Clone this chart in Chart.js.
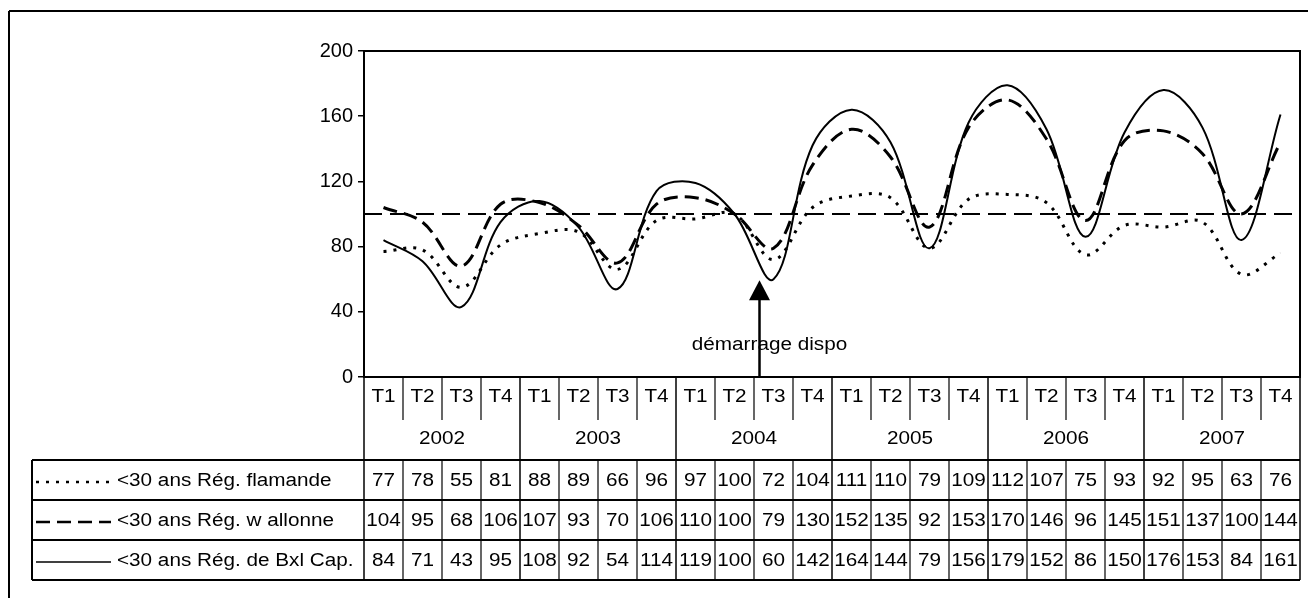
<!DOCTYPE html>
<html>
<head>
<meta charset="utf-8">
<script src="https://cdn.jsdelivr.net/npm/chart.js@4/dist/chart.umd.min.js"></script>
<style>
  html, body { margin: 0; padding: 0; background: #fff; }
  #wrap { width: 1308px; height: 598px; position: relative; }
</style>
</head>
<body>
<div id="wrap"><canvas id="c" width="1308" height="598"></canvas></div>
<script>
// Quarterly index values, 2002-2007
const quarterLabels = ['T1','T2','T3','T4','T1','T2','T3','T4','T1','T2','T3','T4',
                       'T1','T2','T3','T4','T1','T2','T3','T4','T1','T2','T3','T4'];
const yearLabels = ['2002','2003','2004','2005','2006','2007'];
const seriesNames = ['<30 ans Rég. flamande', '<30 ans Rég. w allonne', '<30 ans Rég. de Bxl Cap.'];
const flamande  = [77, 78, 55, 81, 88, 89, 66, 96, 97, 100, 72, 104, 111, 110, 79, 109, 112, 107, 75, 93, 92, 95, 63, 76];
const wallonne  = [104, 95, 68, 106, 107, 93, 70, 106, 110, 100, 79, 130, 152, 135, 92, 153, 170, 146, 96, 145, 151, 137, 100, 144];
const bruxelles = [84, 71, 43, 95, 108, 92, 54, 114, 119, 100, 60, 142, 164, 144, 79, 156, 179, 152, 86, 150, 176, 153, 84, 161];
const referenceLevel = 100;
const startIndex = 10;              // T3 2004
const startLabel = 'démarrage dispo';

const FONT = '18px "Liberation Sans", Arial, sans-serif';
const STRETCH = 1.15;
const dashes = [[3, 7], [14, 7], []];
const widths = [3, 3, 2];

function stretchText(ctx, text, x, y, align) {
  ctx.save();
  ctx.font = FONT;
  ctx.fillStyle = '#000';
  ctx.textBaseline = 'middle';
  ctx.textAlign = align;
  ctx.translate(x, y);
  ctx.scale(STRETCH, 1);
  ctx.fillText(text, 0, 0);
  ctx.restore();
}

function line(ctx, x1, y1, x2, y2, w) {
  ctx.beginPath();
  ctx.lineWidth = w;
  ctx.moveTo(x1, y1);
  ctx.lineTo(x2, y2);
  ctx.stroke();
}

const decorPlugin = {
  id: 'decor',
  beforeDatasetsDraw(chart) {
    const { ctx, chartArea: a, scales: { y } } = chart;
    const yy = y.getPixelForValue(referenceLevel);
    ctx.save();
    ctx.strokeStyle = '#000';
    ctx.setLineDash([18, 8]);
    line(ctx, a.left, yy, a.right, yy, 2);
    ctx.restore();
  },
  afterDatasetsDraw(chart) {
    const { ctx, chartArea: a, scales: { x, y } } = chart;
    // start-of-measure arrow
    const ax = x.getPixelForValue(startIndex) - 14;
    const tip = y.getPixelForValue(bruxelles[startIndex]) + 1;
    ctx.save();
    ctx.strokeStyle = '#000';
    ctx.fillStyle = '#000';
    line(ctx, ax, tip + 18, ax, a.bottom, 2.5);
    ctx.beginPath();
    ctx.moveTo(ax, tip);
    ctx.lineTo(ax - 10.5, tip + 20);
    ctx.lineTo(ax + 10.5, tip + 20);
    ctx.closePath();
    ctx.fill();
    ctx.restore();
    stretchText(chart.ctx, startLabel, ax + 10, a.bottom - 32, 'center');
  },
  afterDraw(chart) {
    const { ctx, chartArea: a, scales: { x } } = chart;
    const n = quarterLabels.length;
    const cw = (a.right - a.left) / n;
    const top = a.bottom;
    const rowT = top + 43, rowY = top + 83;
    const rowH = 40;
    const legendLeft = 32;
    ctx.save();
    ctx.strokeStyle = '#000';
    // plot frame
    ctx.lineWidth = 2;
    ctx.strokeRect(a.left, a.top, a.right - a.left, a.bottom - a.top);
    // outer frame
    line(ctx, 9, 11, 1308, 11, 2);
    line(ctx, 9, 11, 9, 598, 2);

    // quarter and year header
    for (let i = 0; i <= n; i++) {
      const xx = a.left + i * cw;
      if (i % 4 === 0) line(ctx, xx, top, xx, rowY + 3 * rowH, 1.5);
      else {
        line(ctx, xx, top, xx, rowT, 1.2);
        line(ctx, xx, rowY, xx, rowY + 3 * rowH, 1.2);
      }
    }
    quarterLabels.forEach((q, i) => stretchText(ctx, q, x.getPixelForValue(i), top + 20, 'center'));
    yearLabels.forEach((yr, k) => {
      const cx = (x.getPixelForValue(k * 4) + x.getPixelForValue(k * 4 + 3)) / 2;
      stretchText(ctx, yr, cx, rowT + 19, 'center');
    });

    // data table rows
    const rows = [flamande, wallonne, bruxelles];
    for (let r = 0; r <= 3; r++) line(ctx, legendLeft, rowY + r * rowH, a.right, rowY + r * rowH, 2);
    line(ctx, legendLeft, rowY, legendLeft, rowY + 3 * rowH, 2);
    rows.forEach((vals, r) => {
      const cy = rowY + r * rowH + rowH / 2;
      vals.forEach((v, i) => stretchText(ctx, String(v), x.getPixelForValue(i), cy + 1, 'center'));
      // legend key
      ctx.save();
      ctx.setLineDash(dashes[r]);
      line(ctx, legendLeft + 4, cy + 2, legendLeft + 79, cy + 2, r === 2 ? 1.5 : 2.5);
      ctx.restore();
      stretchText(ctx, seriesNames[r], legendLeft + 85, cy + 1, 'left');
    });
    ctx.restore();
  }
};

const mkSet = (label, data, k) => ({
  label, data,
  borderColor: '#000',
  borderWidth: widths[k],
  borderDash: dashes[k],
  pointRadius: 0,
  tension: 0.36,
  fill: false
});

new Chart(document.getElementById('c'), {
  type: 'line',
  data: {
    labels: quarterLabels,
    datasets: [
      mkSet(seriesNames[0], flamande, 0),
      mkSet(seriesNames[1], wallonne, 1),
      mkSet(seriesNames[2], bruxelles, 2)
    ]
  },
  options: {
    responsive: false,
    animation: false,
    devicePixelRatio: 1,
    layout: { padding: { left: 0, right: 8, top: 51, bottom: 221 } },
    plugins: { legend: { display: false }, tooltip: { enabled: false } },
    scales: {
      x: { display: false, offset: true },
      y: {
        min: 0, max: 200,
        afterFit(s) { s.width = 364; },
        ticks: { stepSize: 40, color: '#000', padding: 5,
                 font: { size: 20, family: '"Liberation Sans", Arial, sans-serif' } },
        grid: { drawOnChartArea: false, tickLength: 6, color: '#000', lineWidth: 1.5 },
        border: { color: '#000', width: 2 }
      }
    }
  },
  plugins: [decorPlugin]
});
</script>
</body>
</html>
